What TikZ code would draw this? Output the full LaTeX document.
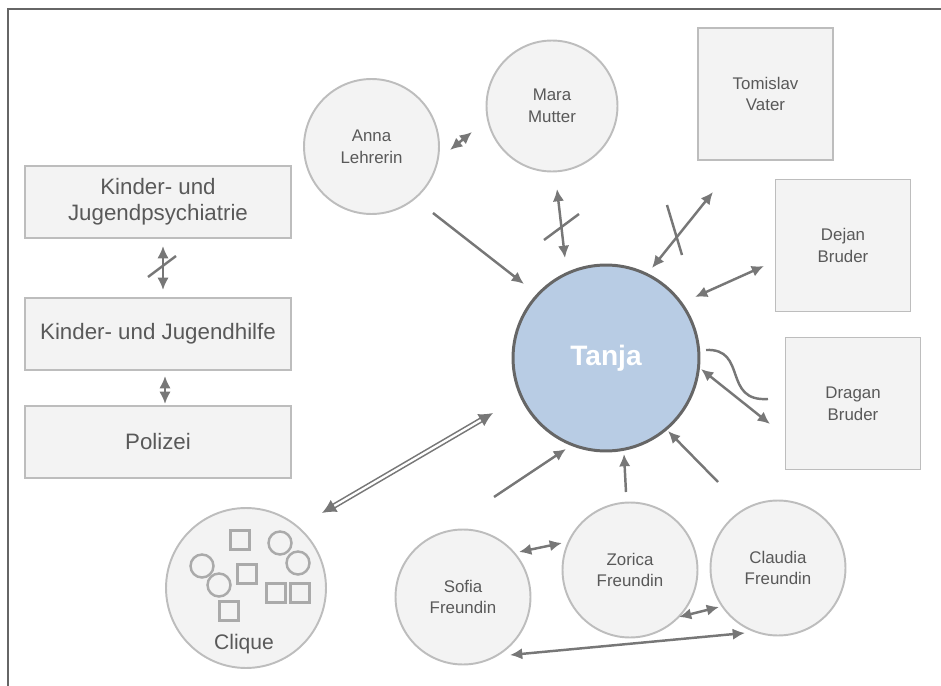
\documentclass[tikz,border=0pt]{standalone}
\usepackage{fontspec}
\setmainfont{Liberation Sans}
\usetikzlibrary{arrows.meta}

\definecolor{nodefill}{HTML}{F3F3F3}
\definecolor{nodeline}{HTML}{BDBDBD}
\definecolor{txtgray}{HTML}{595959}
\definecolor{relgray}{HTML}{777777}
\definecolor{tanjafill}{HTML}{B8CCE4}
\definecolor{tanjaline}{HTML}{666666}

\begin{document}
\begin{tikzpicture}[x=0.02cm, y=-0.02cm,
  person/.style={circle, draw=nodeline, fill=nodefill, line width=1.1pt, minimum size=2.7cm, inner sep=0pt, align=center, text=txtgray, font=\fontsize{9.6}{12.3}\selectfont},
  kin/.style={rectangle, draw=nodeline, fill=nodefill, line width=1.1pt, minimum width=2.7cm, minimum height=2.64cm, align=center, text=txtgray, font=\fontsize{9.6}{12.3}\selectfont},
  org/.style={rectangle, draw=nodeline, fill=nodefill, line width=1.1pt, minimum width=5.32cm, minimum height=1.44cm, align=center, text=txtgray, font=\fontsize{12.7}{14.7}\selectfont},
  member/.style={draw=nodeline!90!black, line width=1.4pt, inner sep=0pt},
  rel/.style={draw=relgray, line width=1.4pt, {Latex[length=7pt,width=6.5pt]}-{Latex[length=7pt,width=6.5pt]}},
  influence/.style={draw=relgray, line width=1.4pt, -{Latex[length=7pt,width=6.5pt]}},
  strike/.style={draw=relgray, line width=1.4pt},
  groupline/.style={draw=relgray, double=white, line width=0.9pt, double distance=1.3pt, {Latex[length=8pt,width=8pt]}-{Latex[length=8pt,width=8pt]}}]
  \useasboundingbox (0,0) rectangle (941,686);
  % Frame
  \draw[draw=tanjaline, line width=1.3pt] (8,686) -- (8,9) -- (941,9);
  % Nodes
  \node[circle, draw=tanjaline, fill=tanjafill, line width=1.7pt, minimum size=3.72cm, text=white, font=\fontsize{16}{18}\selectfont\bfseries] (tanja) at (606,358) {Tanja};
  \node[person] (anna) at (371.5,146.5) {Anna\\Lehrerin};
  \node[person, minimum size=2.62cm] (mara) at (552,106) {Mara\\Mutter};
  \node[kin] (tomislav) at (765.5,94) {Tomislav\\Vater};
  \node[kin] (dejan) at (843,245.5) {Dejan\\Bruder};
  \node[kin] (dragan) at (853,403.5) {Dragan\\Bruder};
  \node[org] (kjp) at (158,202) {Kinder- und\\Jugendpsychiatrie};
  \node[org] (kjh) at (158,334) {Kinder- und Jugendhilfe};
  \node[org] (polizei) at (158,442) {Polizei};
  \node[person] (sofia) at (463,597) {Sofia\\Freundin};
  \node[person] (zorica) at (630,570) {Zorica\\Freundin};
  \node[person] (claudia) at (778,568) {Claudia\\Freundin};
  % Clique
  \node[person, minimum size=3.2cm] (clique) at (246,588) {};
  \node[text=txtgray, font=\fontsize{12}{14}\selectfont] (cliquename) at (244,644) {Clique};
  \node[member, rectangle, minimum size=0.38cm] (m1) at (240,540) {};
  \node[member, rectangle, minimum size=0.38cm] (m2) at (247,574) {};
  \node[member, rectangle, minimum size=0.38cm] (m3) at (229,611) {};
  \node[member, rectangle, minimum size=0.38cm] (m4) at (276,593) {};
  \node[member, rectangle, minimum size=0.38cm] (m5) at (300,593) {};
  \node[member, circle, minimum size=0.46cm] (m6) at (280,543) {};
  \node[member, circle, minimum size=0.46cm] (m7) at (298,563) {};
  \node[member, circle, minimum size=0.46cm] (m8) at (202,566) {};
  \node[member, circle, minimum size=0.46cm] (m9) at (219,585) {};
  % Arrow ends
  \coordinate (anna-a) at (450,150);
  \coordinate (mara-a) at (472,132);
  \coordinate (anna-t) at (433,213);
  \coordinate (tanja-an) at (524,284);
  \coordinate (mara-t) at (557,189);
  \coordinate (tanja-ma) at (565,258);
  \coordinate (tomislav-t) at (713,192);
  \coordinate (tanja-to) at (652,268);
  \coordinate (dejan-t) at (764,266);
  \coordinate (tanja-de) at (695,297);
  \coordinate (dragan-t) at (770,424);
  \coordinate (tanja-dr) at (701,369);
  \coordinate (clique-t) at (322,513);
  \coordinate (tanja-cl) at (493,413);
  \coordinate (sofia-t) at (494,497);
  \coordinate (tanja-so) at (566,449);
  \coordinate (zorica-t) at (626,492);
  \coordinate (tanja-zo) at (624,454);
  \coordinate (claudia-t) at (718,482);
  \coordinate (tanja-cd) at (668,431);
  \coordinate (sofia-z) at (519,552);
  \coordinate (zorica-s) at (562,543);
  \coordinate (zorica-c) at (679,617);
  \coordinate (claudia-z) at (719,607);
  \coordinate (sofia-c) at (510,655);
  \coordinate (claudia-s) at (745,633);
  \coordinate (kjp-h) at (163,246);
  \coordinate (kjh-p) at (163,290);
  \coordinate (kjh-po) at (165,376);
  \coordinate (polizei-h) at (165,404);
  % Arrows
  \draw[rel] (anna-a) -- (mara-a);
  \draw[influence] (anna-t) -- (tanja-an);
  \draw[rel] (mara-t) -- (tanja-ma);
  \draw[strike] (544,240) -- (579,214);
  \draw[rel] (tomislav-t) -- (tanja-to);
  \draw[strike] (667,205) -- (682,255);
  \draw[rel] (dejan-t) -- (tanja-de);
  \draw[rel] (dragan-t) -- (tanja-dr);
  \draw[strike] (706,350) .. controls (748,348) and (722,402) .. (768,399);
  \draw[groupline] (clique-t) -- (tanja-cl);
  \draw[influence] (sofia-t) -- (tanja-so);
  \draw[influence] (zorica-t) -- (tanja-zo);
  \draw[influence] (claudia-t) -- (tanja-cd);
  \draw[rel] (sofia-z) -- (zorica-s);
  \draw[rel] (zorica-c) -- (claudia-z);
  \draw[rel] (sofia-c) -- (claudia-s);
  \draw[rel] (kjp-h) -- (kjh-p);
  \draw[strike] (148,277) -- (176,256);
  \draw[rel] (kjh-po) -- (polizei-h);
\end{tikzpicture}
\end{document}
